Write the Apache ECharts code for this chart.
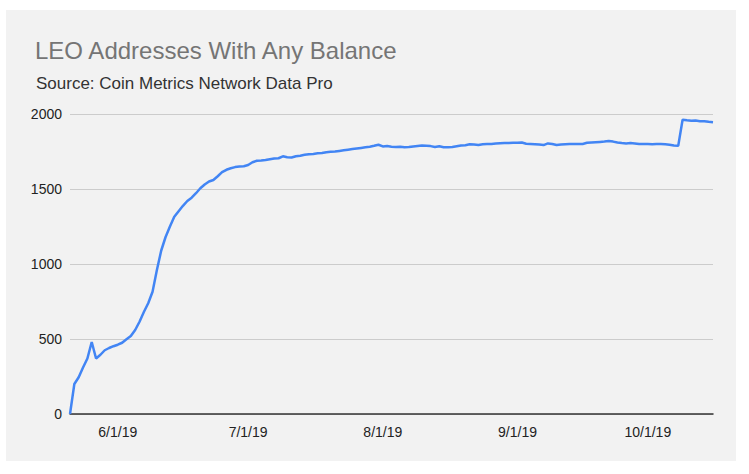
<!DOCTYPE html>
<html>
<head>
<meta charset="utf-8">
<script src="https://cdn.jsdelivr.net/npm/echarts@6/dist/echarts.min.js"></script>
<style>
  html, body { margin: 0; padding: 0; background: #ffffff; }
  #wrap { position: relative; width: 749px; height: 474px; background: #ffffff; }
  #panel { position: absolute; left: 6px; top: 10px; width: 730px; height: 451px; background: #f2f2f2; }
  #chart { position: absolute; left: 0; top: 0; width: 749px; height: 474px; }
</style>
</head>
<body>
<div id="wrap"><div id="panel"></div><div id="chart"></div></div>
<script>
// ---- data ----
var titleText = 'LEO Addresses With Any Balance';
var subtitleText = 'Source: Coin Metrics Network Data Pro';
var startDate = [2019, 5, 21]; // first day of the daily series (May 21, 2019)
var tickLabels = ['6/1/19', '7/1/19', '8/1/19', '9/1/19', '10/1/19'];
var yTicks = [0, 500, 1000, 1500, 2000];
var addresses = [
  0, 200, 245, 310, 370, 480, 370, 395, 425, 440,
  452, 462, 475, 498, 520, 560, 615, 680, 738, 815,
  960, 1090, 1180, 1250, 1315, 1352, 1388, 1420, 1442, 1472,
  1505, 1530, 1550, 1560, 1585, 1612, 1628, 1638, 1646, 1650,
  1652, 1660, 1678, 1688, 1690, 1693, 1698, 1703, 1705, 1718,
  1712, 1710, 1718, 1722, 1728, 1732, 1734, 1738, 1740, 1745,
  1748, 1750, 1754, 1758, 1762, 1766, 1770, 1774, 1778, 1782,
  1788, 1795, 1784, 1786, 1782, 1780, 1782, 1778, 1780, 1784,
  1787, 1790, 1788, 1786, 1780, 1785, 1778, 1778, 1780, 1785,
  1790, 1792, 1798, 1796, 1793, 1798, 1800, 1800, 1803, 1805,
  1806, 1806, 1808, 1808, 1810, 1802, 1800, 1798, 1796, 1793,
  1804, 1800, 1793, 1796, 1798, 1800, 1800, 1800, 1800, 1808,
  1810, 1812, 1814, 1816, 1820, 1816, 1810, 1806, 1804, 1806,
  1804, 1800, 1800, 1800, 1798, 1800, 1800, 1798, 1795, 1790,
  1788, 1962, 1958, 1955, 1956, 1952, 1952, 1948, 1945
];

// category labels (one per day)
var dates = [];
(function () {
  var d = new Date(startDate[0], startDate[1] - 1, startDate[2]);
  for (var i = 0; i < addresses.length; i++) {
    dates.push((d.getMonth() + 1) + '/' + d.getDate() + '/' + String(d.getFullYear()).slice(2));
    d.setDate(d.getDate() + 1);
  }
})();

var chart = echarts.init(document.getElementById('chart'), null, { renderer: 'svg' });
chart.setOption({
  backgroundColor: 'transparent',
  animation: false,
  title: [
    { text: titleText, left: 30, top: 33,
      textStyle: { fontFamily: 'Liberation Sans, Arial, sans-serif', fontSize: 24, fontWeight: 'normal', color: '#757575' } },
    { text: subtitleText, left: 31, top: 70,
      textStyle: { fontFamily: 'Liberation Sans, Arial, sans-serif', fontSize: 17, fontWeight: 'normal', color: '#333333' } }
  ],
  grid: { left: 70, right: 36, top: 114, bottom: 60, containLabel: false },
  xAxis: {
    type: 'category',
    data: dates,
    boundaryGap: false,
    axisLine: { show: true, lineStyle: { color: '#333333', width: 1.5 } },
    axisTick: { show: false },
    splitLine: { show: false },
    axisLabel: {
      interval: function (idx, val) { return tickLabels.indexOf(val) >= 0; },
      margin: 11,
      fontFamily: 'Liberation Sans, Arial, sans-serif',
      fontSize: 14,
      color: '#222222'
    }
  },
  yAxis: {
    type: 'value',
    min: yTicks[0],
    max: yTicks[yTicks.length - 1],
    interval: yTicks[1] - yTicks[0],
    axisLine: { show: false },
    axisTick: { show: false },
    splitLine: { lineStyle: { color: '#cccccc', width: 1 } },
    axisLabel: {
      margin: 8,
      formatter: function (v) { return String(v); },
      fontFamily: 'Liberation Sans, Arial, sans-serif',
      fontSize: 14,
      color: '#222222'
    }
  },
  series: [{
    type: 'line',
    data: addresses,
    showSymbol: false,
    smooth: false,
    lineStyle: { color: '#4285f4', width: 2.5 },
    itemStyle: { color: '#4285f4' }
  }]
});
</script>
</body>
</html>
